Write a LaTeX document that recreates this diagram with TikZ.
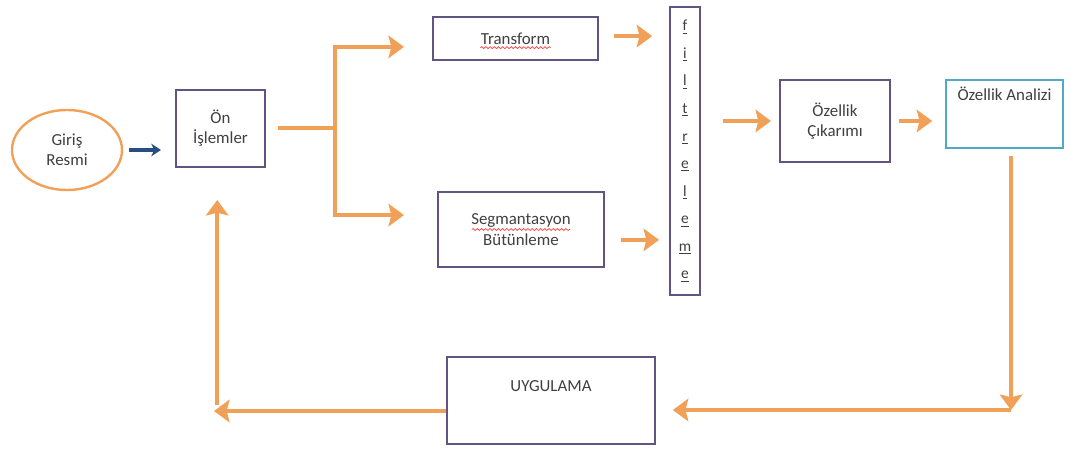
\documentclass[tikz,border=0pt]{standalone}
\usepackage{fontspec}
\setmainfont{Carlito}
\usepackage{tikz}
\usetikzlibrary{arrows.meta,shapes.geometric,positioning,calc,decorations.pathmorphing}
\definecolor{flowor}{RGB}{241,160,88}
\definecolor{boxpur}{RGB}{98,84,130}
\definecolor{boxteal}{RGB}{80,170,196}
\definecolor{inblue}{RGB}{40,78,128}
\definecolor{txtgray}{RGB}{64,64,64}

\begin{document}
\begin{tikzpicture}[x=0.025cm, y=-0.025cm,
  every node/.style={font=\fontsize{12}{14.4}\selectfont, text=txtgray},
  blk/.style={rectangle, draw=boxpur, line width=1.4pt, fill=white,
              inner sep=2pt, align=center},
  start/.style={ellipse, draw=flowor, line width=1.7pt, fill=white,
                minimum width=2.75cm, minimum height=2cm, inner sep=0pt,
                align=center},
  flow/.style={draw=flowor, line width=3.2pt},
  arrow/.style={flow, -{Stealth[length=11pt, width=16pt, inset=2pt]}},
  squiggle/.style={draw=red!75, line width=0.5pt,
                   decorate, decoration={snake, segment length=3pt, amplitude=0.7pt}},
]
\useasboundingbox (0,0) rectangle (1070,451);

%% ── Blocks ─────────────────────────────────────────────────────────────
\node[start] (giris) at (67,150) {Giriş\\Resmi};
\node[blk, minimum width=2.225cm, minimum height=1.925cm] (onis)
  at (220.5,128.5) {Ön\\İşlemler};
\node[blk, minimum width=4.125cm, minimum height=1.075cm] (transform)
  at (515.5,38.5) {Transform};
\node[blk, minimum width=4.15cm, minimum height=1.875cm] (segm)
  at (521,229.5) {Segmantasyon\\Bütünleme};
\node[blk, minimum width=0.75cm, minimum height=7.2cm,
      font=\fontsize{11}{19.6}\selectfont] (filtre) at (685,151)
  {\underline{f}\\\underline{i}\\\underline{l}\\\underline{t}\\\underline{r}\\
   \underline{e}\\\underline{l}\\\underline{e}\\\underline{m}\\\underline{e}};
\node[blk, minimum width=2.75cm, minimum height=2.05cm] (ozcik)
  at (835,121) {Özellik\\Çıkarımı};
\node[blk, draw=boxteal, minimum width=2.925cm, minimum height=1.7cm]
  (ozanaliz) at (1004.5,114) {Özellik Analizi\\[10pt]\strut};
\node[blk, minimum width=5.2cm, minimum height=2.175cm] (uygulama)
  at (551,400.5) {UYGULAMA\\[2pt]\strut};

% spell-check marks
\draw[squiggle] ([xshift=-25pt, yshift=-6.5pt]transform.center) -- ++(50pt,0pt);
\draw[squiggle] ([xshift=-35pt, yshift=0pt]segm.center) -- ++(70pt,0pt);

%% ── Turning points ─────────────────────────────────────────────────────
\coordinate (fork)  at (335,128);
\coordinate (rturn) at (1011,410);
\coordinate (lturn) at (214,411);

%% ── Input ──────────────────────────────────────────────────────────────
\draw[draw=inblue, line width=3pt, -{Stealth[length=7pt, width=9pt]},
      shorten <=0.15cm, shorten >=0.35cm]
  (giris.east) -- (giris.east -| onis.west);

%% ── Forward flow ───────────────────────────────────────────────────────
\draw[flow, shorten <=0.3cm] (onis.east |- fork) -- (fork);
\draw[arrow, shorten >=0.7cm] (fork) |- ([yshift=-0.21cm]transform.west);
\draw[arrow, shorten >=0.825cm] (fork) |- ([yshift=0.36cm]segm.west);
\draw[arrow, shorten <=0.375cm, shorten >=0.42cm]
  ([yshift=0.06cm]transform.east) -- ([yshift=0.06cm]transform.east -| filtre.west);
\draw[arrow, shorten <=0.4cm, shorten >=0.25cm]
  ([yshift=-0.26cm]segm.east) -- ([yshift=-0.26cm]segm.east -| filtre.west);
\draw[arrow, shorten <=0.55cm, shorten >=0.2cm]
  (ozcik.west -| filtre.east) -- (ozcik.west);
\draw[arrow, shorten <=0.2cm, shorten >=0.32cm]
  (ozcik.east) -- (ozcik.east -| ozanaliz.west);

%% ── Feedback loop ──────────────────────────────────────────────────────
\draw[arrow, shorten <=0.18cm] (ozanaliz.south -| rturn) -- (rturn);
\draw[arrow, shorten >=0.42cm] (rturn) -- (rturn -| uygulama.east);
\draw[arrow] (uygulama.west |- lturn) -- (lturn);
\draw[arrow, shorten <=0.15cm, shorten >=0.8cm]
  ([xshift=0.08cm]lturn) -- ([xshift=0.08cm]lturn |- onis.south);

\end{tikzpicture}
\end{document}
